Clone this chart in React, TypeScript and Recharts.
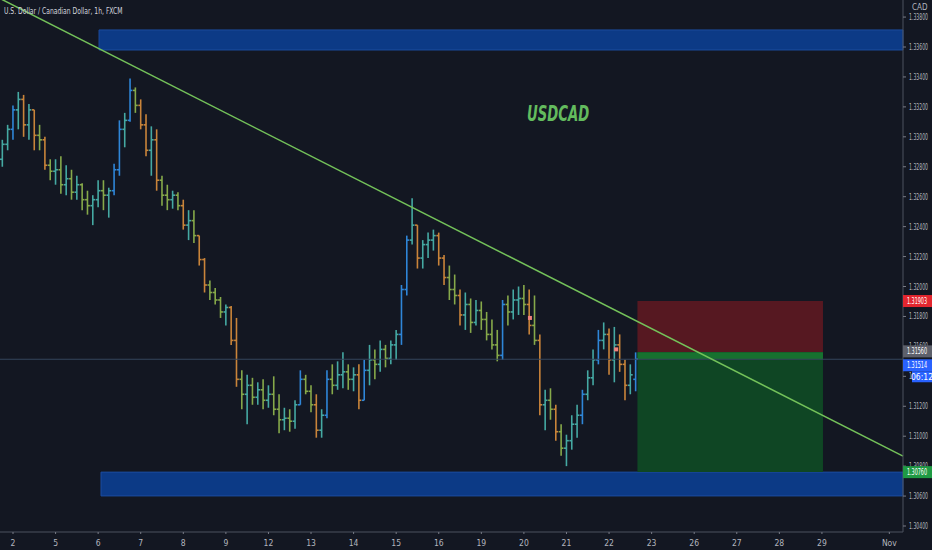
import {
  Bar,
  ComposedChart,
  ReferenceArea,
  ReferenceLine,
  Scatter,
  XAxis,
  YAxis,
} from 'recharts'

// USDCAD, 3-hour OHLC bars. Hour 0 = start of Oct 2.
const firstBarHour = -6
const barStepHours = 3

const opens = [
  1.3285, 1.3295, 1.3305, 1.3318, 1.3325, 1.3308, 1.3318, 1.3301, 1.3298, 1.3281,
  1.3277, 1.3278, 1.3268, 1.3272, 1.3263, 1.3268, 1.3258, 1.3254, 1.3258, 1.3264,
  1.3261, 1.3264, 1.3278, 1.3305, 1.3311, 1.3331, 1.3321, 1.3308, 1.3291, 1.3298,
  1.3271, 1.3261, 1.3258, 1.3261, 1.3254, 1.3241, 1.3244, 1.3234, 1.3218, 1.3201,
  1.3196, 1.3191, 1.3183, 1.3186, 1.3164, 1.3138, 1.3128, 1.3134, 1.3126, 1.3131,
  1.3124, 1.3128, 1.3118, 1.3111, 1.3112, 1.311, 1.3121, 1.3138, 1.313, 1.3121,
  1.3104, 1.3114, 1.3138, 1.3134, 1.3141, 1.3143, 1.3138, 1.3141, 1.3124, 1.3144,
  1.3151, 1.3148, 1.3158, 1.3152, 1.3161, 1.3168, 1.3198, 1.3231, 1.3241, 1.3219,
  1.3228, 1.3231, 1.3234, 1.3219, 1.3206, 1.3198, 1.3194, 1.3181, 1.3188, 1.3176,
  1.3184, 1.3178, 1.3168, 1.3161, 1.3154, 1.3188, 1.3183, 1.3191, 1.3192, 1.3188,
  1.3174, 1.3164, 1.3121, 1.3124, 1.3118, 1.3103, 1.3092, 1.3097, 1.3108, 1.3114,
  1.3128, 1.3139, 1.3151, 1.3164, 1.3168, 1.3151, 1.3161, 1.3148, 1.3134, 1.3138,
]
const highs = [
  1.3298, 1.3308, 1.3321, 1.333, 1.3328, 1.3322, 1.3318, 1.3308, 1.33, 1.3285,
  1.3285, 1.3287, 1.3281, 1.3278, 1.3274, 1.3269, 1.3264, 1.3261, 1.3271, 1.3271,
  1.3266, 1.3282, 1.3311, 1.3316, 1.3339, 1.3333, 1.3325, 1.3315, 1.3307, 1.3305,
  1.3274, 1.3268, 1.3264, 1.3263, 1.3258, 1.3251, 1.3251, 1.3234, 1.3219, 1.3204,
  1.3199, 1.3193, 1.3188, 1.3187, 1.3179, 1.3144, 1.3141, 1.3139, 1.3136, 1.3138,
  1.3134, 1.314, 1.3128, 1.3119, 1.3118, 1.3124, 1.3144, 1.3141, 1.3134, 1.3128,
  1.3118, 1.3144, 1.3148, 1.315, 1.3156, 1.3148, 1.3146, 1.3148, 1.3151, 1.3161,
  1.3158, 1.3164, 1.3161, 1.3164, 1.3171, 1.3201, 1.3234, 1.3259, 1.3241, 1.3231,
  1.3236, 1.3238, 1.3236, 1.3221, 1.3214, 1.3208, 1.3198, 1.3196, 1.3192, 1.3191,
  1.319, 1.3183, 1.3178, 1.3171, 1.3191, 1.3194, 1.3198, 1.32, 1.3201, 1.3198,
  1.3194, 1.3168, 1.3131, 1.3132, 1.3121, 1.3108, 1.3101, 1.3114, 1.3121, 1.3131,
  1.3144, 1.3158, 1.3171, 1.3176, 1.3172, 1.3173, 1.3168, 1.3151, 1.3148, 1.3156,
]
const lows = [
  1.328, 1.3291, 1.3298, 1.3305, 1.33, 1.3298, 1.3291, 1.3291, 1.3278, 1.3271,
  1.3268, 1.3262, 1.3261, 1.3258, 1.3258, 1.3251, 1.3248, 1.3241, 1.3253, 1.3251,
  1.3246, 1.3261, 1.3274, 1.3293, 1.331, 1.3316, 1.3305, 1.3287, 1.3274, 1.3264,
  1.3254, 1.3251, 1.3252, 1.3251, 1.3238, 1.3231, 1.3229, 1.3214, 1.3196, 1.3191,
  1.3188, 1.3179, 1.3174, 1.3161, 1.3133, 1.3118, 1.3108, 1.3121, 1.3121, 1.3118,
  1.3119, 1.3114, 1.3102, 1.3104, 1.3103, 1.3105, 1.3121, 1.3128, 1.3116, 1.3099,
  1.3099, 1.3112, 1.3128, 1.3131, 1.3132, 1.3131, 1.313, 1.3118, 1.3124, 1.3134,
  1.3138, 1.3143, 1.3146, 1.3148, 1.3151, 1.3161, 1.3194, 1.3228, 1.3212, 1.3212,
  1.3219, 1.3224, 1.3214, 1.3201, 1.3191, 1.3188, 1.3174, 1.3171, 1.3169, 1.3174,
  1.3171, 1.3164, 1.3158, 1.315, 1.3151, 1.3174, 1.3178, 1.3181, 1.3181, 1.3168,
  1.3161, 1.3114, 1.3104, 1.3111, 1.3097, 1.3087, 1.308, 1.3091, 1.3099, 1.3108,
  1.3124, 1.3134, 1.3148, 1.3158, 1.3141, 1.3136, 1.3143, 1.3124, 1.3128, 1.313,
]
const closes = [
  1.3295, 1.3305, 1.3318, 1.3325, 1.3308, 1.3318, 1.3301, 1.3298, 1.3281, 1.3277,
  1.3278, 1.3268, 1.3272, 1.3263, 1.3268, 1.3258, 1.3254, 1.3258, 1.3264, 1.3261,
  1.3264, 1.3278, 1.3305, 1.3311, 1.3331, 1.3321, 1.3308, 1.3291, 1.3298, 1.3271,
  1.3261, 1.3258, 1.3261, 1.3254, 1.3241, 1.3244, 1.3234, 1.3218, 1.3201, 1.3196,
  1.3191, 1.3183, 1.3186, 1.3164, 1.3138, 1.3128, 1.3134, 1.3126, 1.3131, 1.3124,
  1.3128, 1.3118, 1.3111, 1.3112, 1.311, 1.3121, 1.3138, 1.313, 1.3121, 1.3104,
  1.3114, 1.3138, 1.3134, 1.3141, 1.3143, 1.3138, 1.3141, 1.3124, 1.3144, 1.3151,
  1.3148, 1.3158, 1.3152, 1.3161, 1.3168, 1.3198, 1.3231, 1.3241, 1.3219, 1.3228,
  1.3231, 1.3234, 1.3219, 1.3206, 1.3198, 1.3194, 1.3181, 1.3188, 1.3176, 1.3184,
  1.3178, 1.3168, 1.3161, 1.3154, 1.3188, 1.3183, 1.3191, 1.3192, 1.3188, 1.3174,
  1.3164, 1.3121, 1.3124, 1.3118, 1.3103, 1.3092, 1.3097, 1.3108, 1.3114, 1.3128,
  1.3139, 1.3151, 1.3164, 1.3168, 1.3151, 1.3161, 1.3148, 1.3134, 1.3141, 1.31514,
]

// x axis: day starts in hours, with their labels
const dayTicks = [0, 24, 48, 72, 96, 120, 144, 168, 192, 216, 240, 264, 288, 312, 336, 360, 384, 408, 432, 456, 494]
const dayLabels = ['2', '5', '6', '7', '8', '9', '12', '13', '14', '15', '16', '19', '20', '21', '22', '23', '26', '27', '28', '29', 'Nov']
const priceTicks = [
  1.304, 1.306, 1.308, 1.31, 1.312, 1.314, 1.316, 1.318, 1.32, 1.322, 1.324, 1.326, 1.328, 1.33,
  1.332, 1.334, 1.336, 1.338,
]

// drawings
const trendStart = { hour: -7.33, price: 1.33924 }
const trendEnd = { hour: 501.7, price: 1.30867 }
const supplyZone = { from: 48.5, low: 1.3358, high: 1.33714 }
const demandZone = { from: 49.6, low: 1.30601, high: 1.3076 }
const position = { from: 352, to: 456.6, entry: 1.3156, stop: 1.31903, target: 1.3076 }
const lastPrice = 1.31514
const countdown = '06:12'
const signalDots = [
  { h: 291.4, p: 1.3179 },
  { h: 340, p: 1.3158 },
]

const bars = opens.map((open, i) => ({
  h: firstBarHour + i * barStepHours,
  open,
  high: highs[i],
  low: lows[i],
  close: closes[i],
  range: [lows[i], highs[i]],
}))

const bg = '#131722'
const axisText = '#b2b5be'
const narrow = '"Liberation Sans Narrow", "DejaVu Sans Condensed", sans-serif'

function barColor(open: number, close: number) {
  const move = close - open
  if (move >= 0.0012) return '#2f86d8'
  if (move >= 0) return '#45a9a3'
  if (move <= -0.0012) return '#c9843a'
  return '#86a94a'
}

function OhlcBar(props: any) {
  const { x, y, width, height, payload } = props
  if (!payload || x == null) return null
  const top = Math.min(y, y + height)
  const span = Math.abs(height)
  const range = payload.high - payload.low || 1e-9
  const yOpen = top + ((payload.high - payload.open) / range) * span
  const yClose = top + ((payload.high - payload.close) / range) * span
  const cx = x + width / 2
  return (
    <g stroke={barColor(payload.open, payload.close)} strokeWidth={1.6}>
      <line x1={cx} x2={cx} y1={top} y2={top + span} />
      <line x1={cx - 2.4} x2={cx} y1={yOpen} y2={yOpen} />
      <line x1={cx} x2={cx + 2.4} y1={yClose} y2={yClose} />
    </g>
  )
}

function PriceTick(props: any) {
  const { x, y, payload } = props
  return (
    <g>
      <line x1={x - 8} x2={x - 5} y1={y} y2={y} stroke="#787b86" />
      <text
        x={x - 2}
        y={y + 3}
        fontSize={8.5}
        fontFamily={narrow}
        fill={axisText}
        textLength={19}
        lengthAdjust="spacingAndGlyphs"
      >
        {Number(payload.value).toFixed(5)}
      </text>
    </g>
  )
}

function DayTick(props: any) {
  const { x, y, payload, index } = props
  return (
    <g>
      <line x1={x} x2={x} y1={y - 5} y2={y - 3} stroke="#787b86" />
      <text x={x} y={y + 9} textAnchor="middle" fontSize={8.5} fontFamily={narrow} fill={axisText}>
        {dayLabels[index] ?? payload.value}
      </text>
    </g>
  )
}

function PriceTag(props: any) {
  const { viewBox, text, fill, dy = 0, extra, extraFill } = props
  if (!viewBox) return null
  const left = viewBox.x + viewBox.width
  const cy = viewBox.y + dy
  return (
    <g>
      <rect x={left} y={cy - 6} width={29} height={12} fill={fill} />
      <text
        x={left + 4}
        y={cy + 3}
        fontSize={8.5}
        fontFamily={narrow}
        fill="#ffffff"
        textLength={20}
        lengthAdjust="spacingAndGlyphs"
      >
        {text}
      </text>
      {extra && (
        <g>
          <rect x={left + 9} y={cy + 6} width={20} height={11} fill={extraFill} />
          <text x={left + 19} y={cy + 14.5} textAnchor="middle" fontSize={8.5} fontFamily={narrow} fill="#ffffff">
            {extra}
          </text>
        </g>
      )}
    </g>
  )
}

function SignalDot(props: any) {
  const { cx, cy } = props
  return <rect x={cx - 2} y={cy - 2} width={4} height={4} fill="#f0817c" />
}

// price tags sit above the axis labels
const tagLayer = 2000

export default function App() {
  return (
    <div style={{ position: 'absolute', left: 0, top: 0, width: 932, height: 550, background: bg, overflow: 'hidden' }}>
      <ComposedChart width={932} height={550} data={bars} margin={{ top: 0, right: 0, bottom: 0, left: 0 }}>
        <XAxis
          dataKey="h"
          type="number"
          domain={[trendStart.hour, trendEnd.hour]}
          allowDataOverflow
          ticks={dayTicks}
          height={18}
          stroke="#4c525e"
          tickLine={false}
          tickSize={3}
          tickMargin={2}
          tick={<DayTick />}
        />
        <YAxis
          orientation="right"
          type="number"
          domain={[1.3036, 1.33914]}
          allowDataOverflow
          ticks={priceTicks}
          width={29}
          stroke="#4c525e"
          tickLine={false}
          tick={<PriceTick />}
        />
        <ReferenceArea
          x1={supplyZone.from}
          x2={trendEnd.hour}
          y1={supplyZone.low}
          y2={supplyZone.high}
          fill="#0c3a86"
          fillOpacity={1}
          stroke="#1c4c9e"
        />
        <ReferenceArea
          x1={demandZone.from}
          x2={trendEnd.hour}
          y1={demandZone.low}
          y2={demandZone.high}
          fill="#0c3a86"
          fillOpacity={1}
          stroke="#1c4c9e"
        />
        <ReferenceArea
          x1={position.from}
          x2={position.to}
          y1={position.entry}
          y2={position.stop}
          fill="#561821"
          fillOpacity={1}
        />
        <ReferenceArea
          x1={position.from}
          x2={position.to}
          y1={position.target}
          y2={position.entry}
          fill="#0f4624"
          fillOpacity={1}
        />
        <ReferenceArea
          x1={position.from}
          x2={position.to}
          y1={lastPrice}
          y2={position.entry}
          fill="#17712f"
          fillOpacity={1}
        />
        <ReferenceLine y={lastPrice} stroke="#34455c" strokeWidth={1} />
        <Bar dataKey="range" barSize={4} shape={<OhlcBar />} isAnimationActive={false} />
        <Scatter data={signalDots} dataKey="p" shape={<SignalDot />} isAnimationActive={false} />
        <ReferenceLine
          segment={[
            { x: trendStart.hour, y: trendStart.price },
            { x: trendEnd.hour, y: trendEnd.price },
          ]}
          stroke="#74c25a"
          strokeWidth={1.5}
          ifOverflow="visible"
        />
        <ReferenceLine
          y={lastPrice}
          stroke="none"
          zIndex={tagLayer}
          label={<PriceTag text="1.31514" fill="#2962ff" dy={6} extra={countdown} extraFill="#2962ff" />}
        />
        <ReferenceLine
          y={position.stop}
          stroke="none"
          zIndex={tagLayer}
          label={<PriceTag text="1.31903" fill="#e3262f" />}
        />
        <ReferenceLine
          y={position.entry}
          stroke="none"
          zIndex={tagLayer}
          label={<PriceTag text="1.31560" fill="#5d606b" dy={-1} />}
        />
        <ReferenceLine
          y={position.target}
          stroke="none"
          zIndex={tagLayer}
          label={<PriceTag text="1.30760" fill="#1f9a44" />}
        />
      </ComposedChart>
      <div
        style={{
          position: 'absolute',
          left: 4,
          top: 5,
          fontFamily: narrow,
          fontSize: 9.5,
          color: '#d1d4dc',
          whiteSpace: 'nowrap',
          transform: 'scaleX(0.71)',
          transformOrigin: 'left top',
        }}
      >
        U.S. Dollar / Canadian Dollar, 1h, FXCM
      </div>
      <div
        style={{
          position: 'absolute',
          left: 912,
          top: 3,
          fontFamily: narrow,
          fontSize: 8,
          color: axisText,
        }}
      >
        CAD
      </div>
      <div
        style={{
          position: 'absolute',
          left: 527,
          top: 102,
          fontFamily: narrow,
          fontSize: 21,
          fontWeight: 'bold',
          fontStyle: 'italic',
          color: '#63bb5e',
          transform: 'scaleX(0.7)',
          transformOrigin: 'left top',
        }}
      >
        USDCAD
      </div>
    </div>
  )
}
